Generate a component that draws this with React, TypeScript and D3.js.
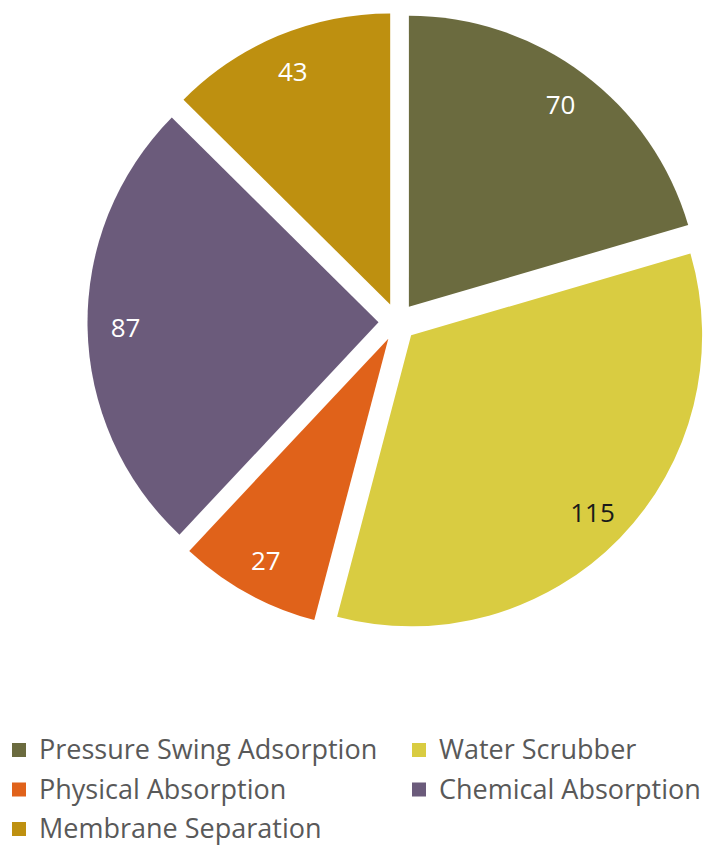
import React from "react";
import * as d3 from "d3";

// Upgrading technologies and their counts
const categories = [
  "Pressure Swing Adsorption",
  "Water Scrubber",
  "Physical Absorption",
  "Chemical Absorption",
  "Membrane Separation",
];
const values = [70, 115, 27, 87, 43];
const colors = ["#6b6b3f", "#d9cc41", "#e0621a", "#6b5b7b", "#be9010"];
const labelColors = ["#ffffff", "#1a1a1a", "#ffffff", "#ffffff", "#ffffff"];

const W = 713;
const H = 847;
const cx = 397.5;
const cy = 322;
const radius = 291;
const explode = 19;
const labelDist = 253;

// legend grid: two columns, row by row (y = text baseline)
const legendCols = [12, 412];
const legendRows = [759, 798.5, 838];

export default function App() {
  const pie = d3
    .pie<number>()
    .sort(null)
    .value((d) => d);
  const arcs = pie(values);
  const arc = d3.arc<d3.PieArcDatum<number>>().innerRadius(0).outerRadius(radius);

  return (
    <svg
      width={W}
      height={H}
      style={{ position: "absolute", left: 0, top: 0, background: "#ffffff" }}
      fontFamily="'Open Sans', 'Noto Sans', sans-serif"
    >
      <g>
        {arcs.map((a, i) => {
          const mid = (a.startAngle + a.endAngle) / 2;
          const ox = cx + explode * Math.sin(mid);
          const oy = cy - explode * Math.cos(mid);
          const lx = labelDist * Math.sin(mid);
          const ly = -labelDist * Math.cos(mid);
          return (
            <g key={categories[i]} transform={`translate(${ox},${oy})`}>
              <path d={arc(a) ?? ""} fill={colors[i]} />
              <text
                x={lx}
                y={ly}
                textAnchor="middle"
                dominantBaseline="central"
                fontSize={26}
                fill={labelColors[i]}
              >
                {values[i]}
              </text>
            </g>
          );
        })}
      </g>
      <g>
        {categories.map((c, i) => {
          const col = i % 2;
          const row = Math.floor(i / 2);
          const x = legendCols[col];
          const y = legendRows[row];
          return (
            <g key={c} transform={`translate(${x},${y})`}>
              <rect x={0} y={-16} width={14} height={14} fill={colors[i]} />
              <text x={27} y={0} fontSize={27} fill="#595959">
                {c}
              </text>
            </g>
          );
        })}
      </g>
    </svg>
  );
}
